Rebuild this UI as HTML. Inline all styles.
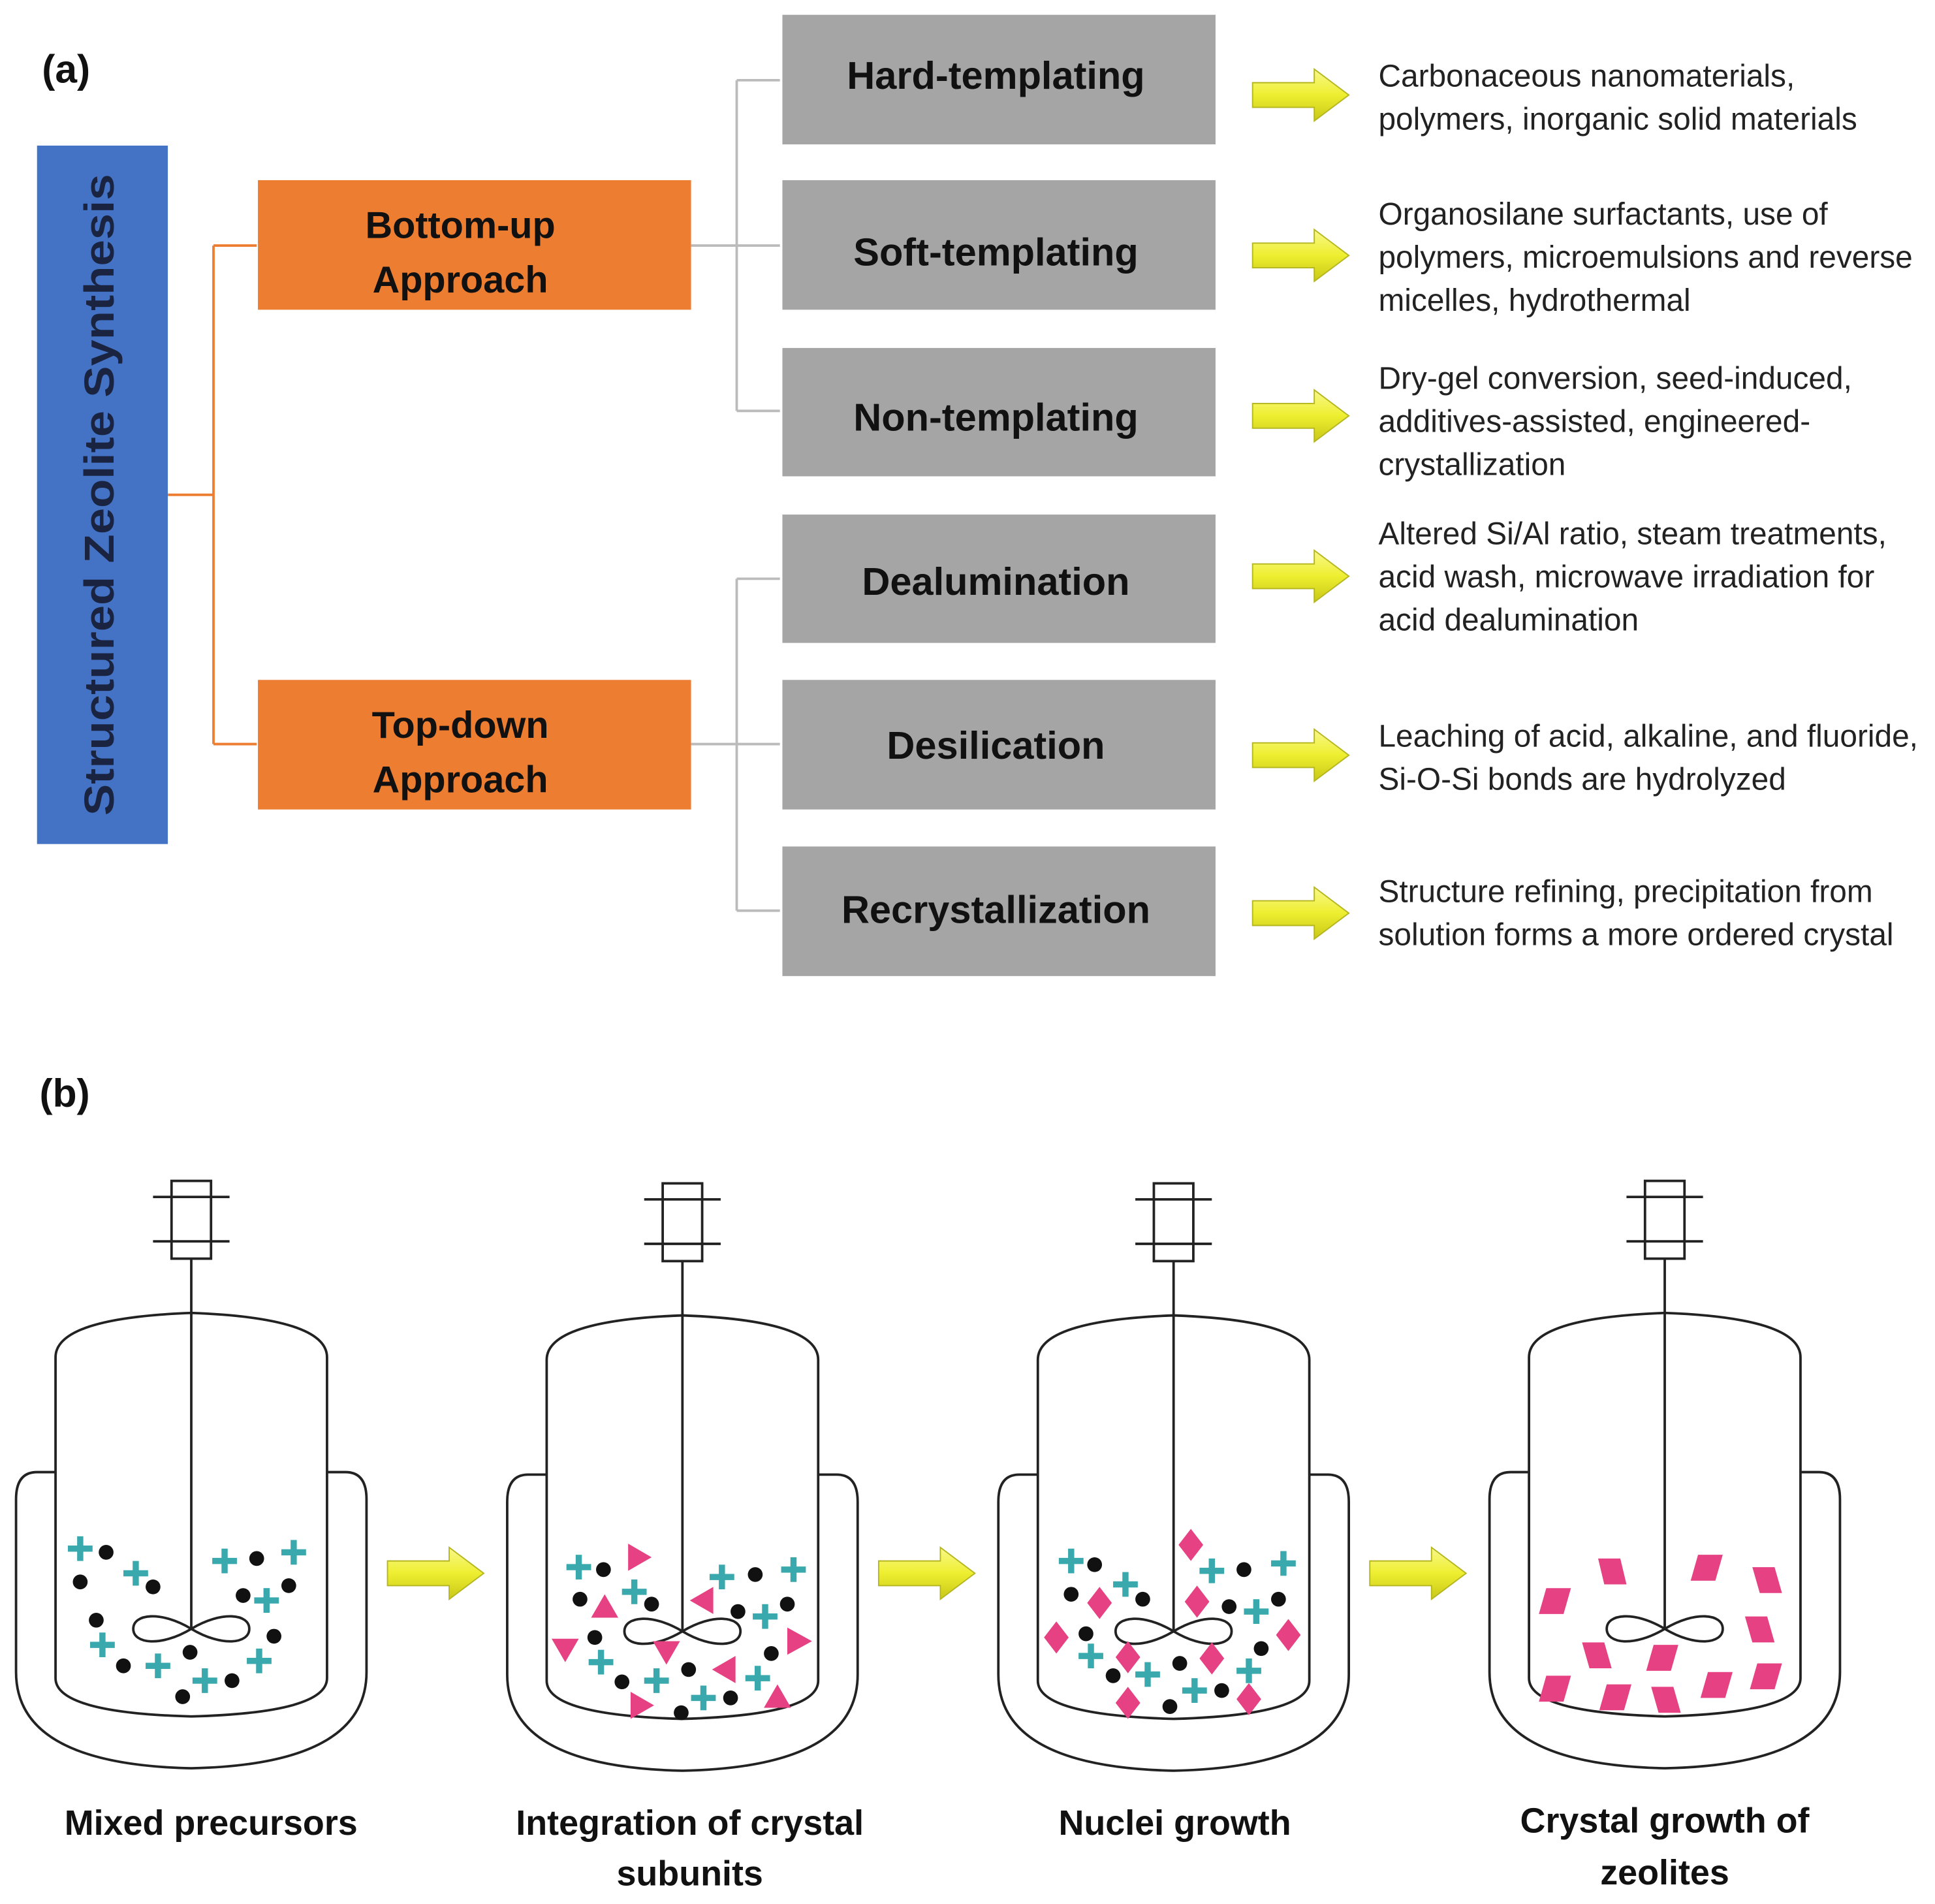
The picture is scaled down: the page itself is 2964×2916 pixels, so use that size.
<!DOCTYPE html>
<html><head><meta charset="utf-8"><style>
html,body{margin:0;padding:0;background:#fff;}
svg{display:block;}
text{font-family:"Liberation Sans",sans-serif;}
.t{font-weight:bold;font-size:31.5px;fill:#111;text-anchor:middle;}
.o{font-weight:bold;font-size:30.5px;fill:#111;text-anchor:middle;}
.c{font-weight:bold;font-size:28.5px;fill:#111;text-anchor:middle;}
.d{font-size:25.3px;fill:#222;}
.v{fill:none;stroke:#222;stroke-width:2;}
</style></head><body>
<svg width="2964" height="2916" viewBox="0 0 1568 1543" preserveAspectRatio="none" xmlns="http://www.w3.org/2000/svg">
<defs>
<linearGradient id="yg" x1="0" y1="0" x2="0" y2="1">
<stop offset="0" stop-color="#f8f88a"/><stop offset="0.5" stop-color="#eeee30"/><stop offset="1" stop-color="#c8c818"/>
</linearGradient>
<g id="arr"><path d="M0,-10 L50,-10 L50,-21 L78,0 L50,21 L50,10 L0,10 Z" fill="url(#yg)" stroke="#b5b520" stroke-width="1"/></g>
<g id="plus" fill="#3aa9ad"><rect x="-10" y="-2.5" width="20" height="5"/><rect x="-2.5" y="-10" width="5" height="20"/></g>
<g id="dot"><circle r="6" fill="#111"/></g>
<g id="dia"><path d="M0,-13 L10,0 L0,13 L-10,0 Z" fill="#e64182"/></g>
<g id="reactor">
<path class="v" d="M45,1193 L30,1193 Q13,1193 13,1215 L13,1355 Q13,1430 155,1433 Q297,1430 297,1355 L297,1215 Q297,1193 280,1193 L265,1193"/>
<path class="v" d="M45,1360 L45,1100 Q45,1068 155,1064 Q265,1068 265,1100 L265,1360 Q265,1388 155,1391 Q45,1388 45,1360 Z"/>
<rect class="v" x="139" y="957" width="32" height="63"/>
<line class="v" x1="124" y1="970" x2="186" y2="970"/>
<line class="v" x1="124" y1="1006" x2="186" y2="1006"/>
<line class="v" x1="155" y1="1020" x2="155" y2="1320"/>
<path class="v" d="M155,1320 C130,1305 108,1308 108,1320 C108,1332 130,1335 155,1320 C180,1305 202,1308 202,1320 C202,1332 180,1335 155,1320 Z"/>
</g>
</defs>

<text x="34" y="67" style="font-weight:bold;font-size:32px;fill:#111">(a)</text>

<rect x="30" y="118" width="106" height="566" fill="#4472c4"/>
<text transform="translate(92,401) rotate(-90)" text-anchor="middle" style="font-weight:bold;font-size:34px;fill:#1a2440" textLength="520" lengthAdjust="spacingAndGlyphs">Structured Zeolite Synthesis</text>

<g stroke="#ed7d31" stroke-width="2" fill="none">
<path d="M136,401 L173,401 M173,199 L173,603 M173,199 L208,199 M173,603 L208,603"/>
</g>
<g stroke="#bbbbbb" stroke-width="2" fill="none">
<path d="M560,199 L632,199 M597,65 L597,333 M597,65 L632,65 M597,333 L632,333"/>
<path d="M560,603 L632,603 M597,469 L597,738 M597,469 L632,469 M597,738 L632,738"/>
</g>

<rect x="209" y="146" width="351" height="105" fill="#ed7d31"/>
<text class="o" x="373" y="193">Bottom-up</text><text class="o" x="373" y="237">Approach</text>
<rect x="209" y="551" width="351" height="105" fill="#ed7d31"/>
<text class="o" x="373" y="598">Top-down</text><text class="o" x="373" y="642">Approach</text>

<g fill="#a5a5a5">
<rect x="634" y="12" width="351" height="105"/>
<rect x="634" y="146" width="351" height="105"/>
<rect x="634" y="282" width="351" height="104"/>
<rect x="634" y="417" width="351" height="104"/>
<rect x="634" y="551" width="351" height="105"/>
<rect x="634" y="686" width="351" height="105"/>
</g>
<text class="t" x="807" y="72">Hard-templating</text>
<text class="t" x="807" y="215">Soft-templating</text>
<text class="t" x="807" y="349">Non-templating</text>
<text class="t" x="807" y="482">Dealumination</text>
<text class="t" x="807" y="615">Desilication</text>
<text class="t" x="807" y="748">Recrystallization</text>

<use href="#arr" x="1015" y="77"/>
<use href="#arr" x="1015" y="207"/>
<use href="#arr" x="1015" y="337"/>
<use href="#arr" x="1015" y="467"/>
<use href="#arr" x="1015" y="612"/>
<use href="#arr" x="1015" y="740"/>

<text class="d" x="1117" y="70">Carbonaceous nanomaterials,</text>
<text class="d" x="1117" y="105">polymers, inorganic solid materials</text>
<text class="d" x="1117" y="182">Organosilane surfactants, use of</text>
<text class="d" x="1117" y="217">polymers, microemulsions and reverse</text>
<text class="d" x="1117" y="252">micelles, hydrothermal</text>
<text class="d" x="1117" y="315">Dry-gel conversion, seed-induced,</text>
<text class="d" x="1117" y="350">additives-assisted, engineered-</text>
<text class="d" x="1117" y="385">crystallization</text>
<text class="d" x="1117" y="441">Altered Si/Al ratio, steam treatments,</text>
<text class="d" x="1117" y="476">acid  wash, microwave irradiation for</text>
<text class="d" x="1117" y="511">acid dealumination</text>
<text class="d" x="1117" y="605">Leaching of acid, alkaline, and fluoride,</text>
<text class="d" x="1117" y="640">Si-O-Si bonds are hydrolyzed</text>
<text class="d" x="1117" y="731">Structure refining, precipitation from</text>
<text class="d" x="1117" y="766">solution forms a more ordered crystal</text>

<text x="32" y="897" style="font-weight:bold;font-size:32px;fill:#111">(b)</text>

<use href="#reactor" x="0" y="0"/>
<use href="#reactor" x="398" y="2"/>
<use href="#reactor" x="796" y="2"/>
<use href="#reactor" x="1194" y="0"/>

<use href="#arr" x="314" y="1275"/>
<use href="#arr" x="712" y="1275"/>
<use href="#arr" x="1110" y="1275"/>

<use href="#plus" x="65" y="1255"/><use href="#plus" x="110" y="1275"/><use href="#plus" x="182" y="1265"/><use href="#plus" x="238" y="1258"/><use href="#plus" x="216" y="1297"/><use href="#plus" x="83" y="1333"/><use href="#plus" x="128" y="1350"/><use href="#plus" x="166" y="1362"/><use href="#plus" x="210" y="1346"/>
<use href="#dot" x="86" y="1258"/><use href="#dot" x="65" y="1282"/><use href="#dot" x="124" y="1286"/><use href="#dot" x="208" y="1263"/><use href="#dot" x="197" y="1293"/><use href="#dot" x="234" y="1285"/><use href="#dot" x="78" y="1313"/><use href="#dot" x="222" y="1326"/><use href="#dot" x="154" y="1339"/><use href="#dot" x="100" y="1350"/><use href="#dot" x="188" y="1362"/><use href="#dot" x="148" y="1375"/>

<use href="#plus" x="469" y="1270"/><use href="#plus" x="514" y="1290"/><use href="#plus" x="585" y="1278"/><use href="#plus" x="643" y="1272"/><use href="#plus" x="620" y="1310"/><use href="#plus" x="487" y="1347"/><use href="#plus" x="532" y="1362"/><use href="#plus" x="570" y="1376"/><use href="#plus" x="614" y="1360"/>
<use href="#dot" x="489" y="1272"/><use href="#dot" x="470" y="1296"/><use href="#dot" x="528" y="1300"/><use href="#dot" x="612" y="1276"/><use href="#dot" x="598" y="1306"/><use href="#dot" x="638" y="1300"/><use href="#dot" x="482" y="1327"/><use href="#dot" x="625" y="1340"/><use href="#dot" x="558" y="1353"/><use href="#dot" x="504" y="1363"/><use href="#dot" x="592" y="1376"/><use href="#dot" x="552" y="1388"/>
<g fill="#e64182">
<path d="M509,1251 L528,1262 L509,1273 Z"/>
<path d="M490,1292 L501,1311 L479,1311 Z"/>
<path d="M578,1286 L578,1308 L559,1297 Z"/>
<path d="M447,1328 L469,1328 L458,1347 Z"/>
<path d="M529,1330 L551,1330 L540,1349 Z"/>
<path d="M638,1319 L658,1330 L638,1341 Z"/>
<path d="M596,1342 L596,1364 L577,1353 Z"/>
<path d="M511,1371 L530,1382 L511,1393 Z"/>
<path d="M630,1365 L641,1384 L619,1384 Z"/>
</g>

<use href="#plus" x="868" y="1265"/><use href="#plus" x="912" y="1284"/><use href="#plus" x="982" y="1273"/><use href="#plus" x="1040" y="1267"/><use href="#plus" x="1018" y="1306"/><use href="#plus" x="884" y="1342"/><use href="#plus" x="930" y="1357"/><use href="#plus" x="968" y="1370"/><use href="#plus" x="1012" y="1354"/>
<use href="#dot" x="887" y="1268"/><use href="#dot" x="868" y="1292"/><use href="#dot" x="926" y="1296"/><use href="#dot" x="1008" y="1272"/><use href="#dot" x="996" y="1302"/><use href="#dot" x="1036" y="1296"/><use href="#dot" x="880" y="1324"/><use href="#dot" x="1022" y="1336"/><use href="#dot" x="956" y="1348"/><use href="#dot" x="902" y="1358"/><use href="#dot" x="990" y="1370"/><use href="#dot" x="948" y="1383"/>
<use href="#dia" x="965" y="1252"/><use href="#dia" x="891" y="1299"/><use href="#dia" x="970" y="1298"/><use href="#dia" x="856" y="1327"/><use href="#dia" x="914" y="1343"/><use href="#dia" x="982" y="1344"/><use href="#dia" x="1044" y="1325"/><use href="#dia" x="914" y="1380"/><use href="#dia" x="1012" y="1377"/>

<g fill="#e64182">
<path d="M1253,1287 L1273,1287 L1267,1308 L1247,1308 Z"/>
<path d="M1295,1263 L1313,1263 L1318,1284 L1300,1284 Z"/>
<path d="M1376,1260 L1396,1260 L1390,1281 L1370,1281 Z"/>
<path d="M1420,1270 L1438,1270 L1444,1291 L1426,1291 Z"/>
<path d="M1414,1310 L1432,1310 L1438,1331 L1420,1331 Z"/>
<path d="M1282,1331 L1300,1331 L1306,1352 L1288,1352 Z"/>
<path d="M1340,1333 L1360,1333 L1354,1354 L1334,1354 Z"/>
<path d="M1253,1358 L1273,1358 L1267,1379 L1247,1379 Z"/>
<path d="M1302,1365 L1322,1365 L1316,1386 L1296,1386 Z"/>
<path d="M1338,1367 L1356,1367 L1362,1388 L1344,1388 Z"/>
<path d="M1384,1355 L1404,1355 L1398,1376 L1378,1376 Z"/>
<path d="M1424,1348 L1444,1348 L1438,1369 L1418,1369 Z"/>
</g>

<text class="c" x="171" y="1487">Mixed precursors</text>
<text class="c" x="559" y="1487">Integration of crystal</text>
<text class="c" x="559" y="1528">subunits</text>
<text class="c" x="952" y="1487">Nuclei growth</text>
<text class="c" x="1349" y="1485">Crystal growth of</text>
<text class="c" x="1349" y="1527">zeolites</text>
</svg>
</body></html>
